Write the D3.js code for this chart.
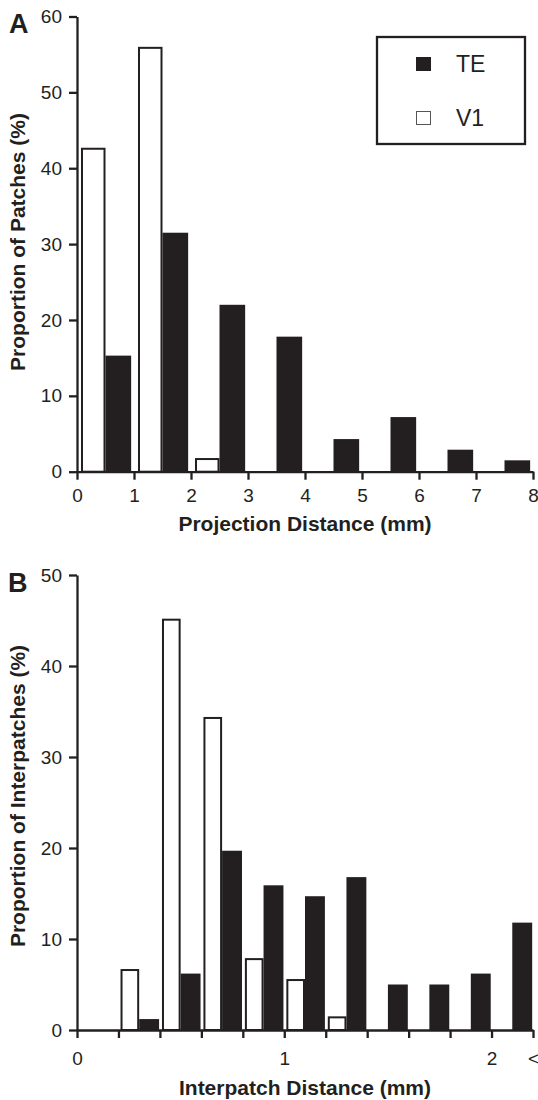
<!DOCTYPE html>
<html>
<head>
<meta charset="utf-8">
<script src="https://cdn.jsdelivr.net/npm/d3@7"></script>
<style>
  body { margin: 0; background: #fff; }
  text { font-family: 'Liberation Sans', Arial, Helvetica, sans-serif; fill: #231f20; }
  .axis path, .axis line { stroke: #231f20; stroke-width: 2.3; }
  .axis text { font-size: 19px; }
  .title { font-size: 21px; font-weight: bold; }
  .panel { font-size: 27px; font-weight: bold; }
</style>
</head>
<body>
<div id="chart"></div>
<script>
// panel A: projection distance, 1 mm bins
var projBins = [0, 1, 2, 3, 4, 5, 6, 7];
var projV1 = [42.7, 56.0, 1.8, 0, 0, 0, 0, 0];
var projTE = [15.3, 31.5, 22.0, 17.8, 4.3, 7.2, 2.9, 1.5];
var projYTicks = [0, 10, 20, 30, 40, 50, 60];
var projXTicks = [0, 1, 2, 3, 4, 5, 6, 7, 8];
var projXLabels = ['0', '1', '2', '3', '4', '5', '6', '7', '8'];

// panel B: interpatch distance, 0.2 mm bins
var interBins = [0, 0.2, 0.4, 0.6, 0.8, 1.0, 1.2, 1.4, 1.6, 1.8, 2.0];
var interV1 = [0, 6.7, 45.2, 34.4, 7.9, 5.6, 1.5, 0, 0, 0, 0];
var interTE = [0, 1.2, 6.2, 19.7, 15.9, 14.7, 16.8, 5.0, 5.0, 6.2, 11.8];
var interYTicks = [0, 10, 20, 30, 40, 50];
var interXTicks = [0, 0.2, 0.4, 0.6, 0.8, 1.0, 1.2, 1.4, 1.6, 1.8, 2.0, 2.2];
var interXLabels = ['0', '', '', '', '', '1', '', '', '', '', '2', '<'];

var seriesNames = ['TE', 'V1'];

var ink = '#231f20';

var svg = d3.select('#chart').append('svg')
  .attr('width', 538)
  .attr('height', 1100);

function drawPanel(opt) {
  var g = svg.append('g');

  var x = d3.scaleLinear().domain(opt.xDomain).range([77, 533]);
  var y = d3.scaleLinear().domain(opt.yDomain).range(opt.yRange);

  var yAxis = d3.axisLeft(y)
    .tickValues(opt.yTicks)
    .tickSize(8)
    .tickSizeOuter(0)
    .tickPadding(7);
  var xAxis = d3.axisBottom(x)
    .tickValues(opt.xTicks)
    .tickSize(8)
    .tickSizeOuter(0)
    .tickPadding(opt.xPad)
    .tickFormat(function(d, i) { return opt.xLabels[i]; });

  // bars first so the axis line sits on top
  var binW = opt.binWidth;
  var bars = g.append('g').classed('bars', true);

  opt.bins.forEach(function(b, i) {
    var mid = b + binW / 2;
    if (opt.v1[i] > 0) {
      bars.append('rect')
        .attr('x', x(b + binW * opt.v1Start) + 1)
        .attr('y', y(opt.v1[i]) + 1)
        .attr('width', x(mid) - x(b + binW * opt.v1Start) - 2)
        .attr('height', y(0) - y(opt.v1[i]) - 1)
        .style('fill', '#fff')
        .style('stroke', ink)
        .style('stroke-width', 2);
    }
    if (opt.te[i] > 0) {
      bars.append('rect')
        .attr('x', x(mid))
        .attr('y', y(opt.te[i]))
        .attr('width', x(b + binW * opt.teEnd) - x(mid))
        .attr('height', y(0) - y(opt.te[i]))
        .style('fill', ink);
    }
  });

  g.append('g')
    .classed('x axis', true)
    .attr('transform', 'translate(0,' + y(0) + ')')
    .call(xAxis);

  g.append('g')
    .classed('y axis', true)
    .attr('transform', 'translate(77,0)')
    .call(yAxis);

  g.selectAll('.axis text').style('fill', ink);

  g.append('text')
    .classed('title', true)
    .attr('x', 305)
    .attr('y', opt.xTitleY)
    .style('text-anchor', 'middle')
    .text(opt.xTitle);

  g.append('text')
    .classed('title', true)
    .attr('transform', 'translate(25,' + opt.yTitleMid + ')rotate(-90)')
    .style('text-anchor', 'middle')
    .text(opt.yTitle);

  g.append('text')
    .classed('panel', true)
    .attr('x', opt.panelX)
    .attr('y', opt.panelY)
    .text(opt.panel);
}

drawPanel({
  bins: projBins, v1: projV1, te: projTE, binWidth: 1,
  v1Start: 0.07, teEnd: 0.95,
  xDomain: [0, 8], yDomain: [0, 60], yRange: [471.7, 16.5],
  yTicks: projYTicks, xTicks: projXTicks, xLabels: projXLabels, xPad: 8.5,
  xTitle: 'Projection Distance (mm)', xTitleY: 531,
  yTitle: 'Proportion of Patches (%)', yTitleMid: 242,
  panel: 'A', panelX: 9, panelY: 33
});

drawPanel({
  bins: interBins, v1: interV1, te: interTE, binWidth: 0.2,
  v1Start: 0.05, teEnd: 0.98,
  xDomain: [0, 2.2], yDomain: [0, 50], yRange: [1030, 575],
  yTicks: interYTicks, xTicks: interXTicks, xLabels: interXLabels, xPad: 13.5,
  xTitle: 'Interpatch Distance (mm)', xTitleY: 1095,
  yTitle: 'Proportion of Interpatches (%)', yTitleMid: 796,
  panel: 'B', panelX: 8, panelY: 592
});

// legend for panel A
var legend = svg.append('g')
  .attr('class', 'legend');

legend.append('rect')
  .attr('x', 377)
  .attr('y', 37)
  .attr('width', 148)
  .attr('height', 107)
  .style('fill', '#fff')
  .style('stroke', ink)
  .style('stroke-width', 2.3);

seriesNames.forEach(function(name, i) {
  var rowY = 57 + i * 54;
  legend.append('rect')
    .attr('x', name === 'TE' ? 416 : 416.5)
    .attr('y', name === 'TE' ? rowY : rowY + 0.5)
    .attr('width', name === 'TE' ? 15 : 14)
    .attr('height', name === 'TE' ? 14 : 13)
    .style('fill', name === 'TE' ? ink : '#fff')
    .style('stroke', name === 'TE' ? 'none' : '#555')
    .style('stroke-width', 1);
  legend.append('text')
    .attr('x', 456)
    .attr('y', rowY + 14.5)
    .style('font-size', '23px')
    .text(name);
});
</script>
</body>
</html>
